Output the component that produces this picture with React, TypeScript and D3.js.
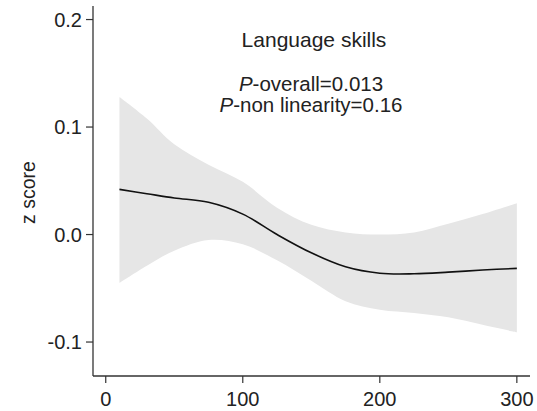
import React from "react";
import * as d3 from "d3";

// Restricted cubic spline estimate with 95% confidence band
const xValues = [10, 30, 50, 75, 100, 125, 150, 175, 200, 225, 250, 275, 300];
const fitValues = [0.042, 0.038, 0.034, 0.030, 0.019, 0.000, -0.017, -0.030, -0.036, -0.0365, -0.035, -0.033, -0.0315];
const upperValues = [0.128, 0.108, 0.084, 0.065, 0.049, 0.025, 0.009, 0.002, 0.000, 0.002, 0.010, 0.019, 0.029];
const lowerValues = [-0.045, -0.029, -0.015, -0.005, -0.009, -0.024, -0.043, -0.062, -0.070, -0.073, -0.077, -0.084, -0.091];

const xTicks = [0, 100, 200, 300];
const yTicks = [0.2, 0.1, 0.0, -0.1];

const title = "Language skills";
const pOverall = "0.013";
const pNonLinearity = "0.16";
const yLabel = "z score";

const W = 537;
const H = 411;
const FONT = "'Liberation Sans', Arial, Helvetica, sans-serif";

// Tick labels with an ASCII hyphen for negatives
const fmtTick = (v: number) => d3.format(".1f")(v).replace("\u2212", "-");

export default function App() {
  const x = d3.scaleLinear().domain([-9.3, 309.6]).range([93, 530]);
  const y = d3.scaleLinear().domain([-0.1316, 0.2126]).range([376, 6]);

  const rows = xValues.map((v, i) => ({
    x: v,
    fit: fitValues[i],
    lo: lowerValues[i],
    hi: upperValues[i],
  }));

  const curve = d3.curveCatmullRom.alpha(0.5);

  const band = d3
    .area<(typeof rows)[number]>()
    .x((d) => x(d.x))
    .y0((d) => y(d.lo))
    .y1((d) => y(d.hi))
    .curve(curve);

  const line = d3
    .line<(typeof rows)[number]>()
    .x((d) => x(d.x))
    .y((d) => y(d.fit))
    .curve(curve);

  const [x0, x1] = x.range();
  const [yb, yt] = y.range();
  const axisColor = "#333";
  const textColor = "#222";

  return (
    <svg
      width={W}
      height={H}
      style={{ position: "fixed", left: 0, top: 0, background: "#fff" }}
      fontFamily={FONT}
    >
      <path d={band(rows) ?? ""} fill="#e6e6e6" stroke="none" />
      <path d={line(rows) ?? ""} fill="none" stroke="#111" strokeWidth={1.6} />

      {/* axes */}
      <line x1={x0} x2={x0} y1={yt} y2={yb} stroke={axisColor} strokeWidth={1.3} />
      <line x1={x0} x2={x1} y1={yb} y2={yb} stroke={axisColor} strokeWidth={1.3} />

      {yTicks.map((t) => (
        <g key={`y${t}`}>
          <line x1={x0 - 7} x2={x0} y1={y(t)} y2={y(t)} stroke={axisColor} strokeWidth={1.2} />
          <text
            x={x0 - 11}
            y={y(t)}
            dy="0.35em"
            textAnchor="end"
            fontSize={20}
            fill={textColor}
          >
            {fmtTick(t)}
          </text>
        </g>
      ))}

      {xTicks.map((t) => (
        <g key={`x${t}`}>
          <line x1={x(t)} x2={x(t)} y1={yb} y2={yb + 7} stroke={axisColor} strokeWidth={1.2} />
          <text x={x(t)} y={406} textAnchor="middle" fontSize={20} fill={textColor}>
            {t}
          </text>
        </g>
      ))}

      <text
        transform={`translate(35,192.5) rotate(-90)`}
        textAnchor="middle"
        fontSize={19.5}
        fill={textColor}
      >
        {yLabel}
      </text>

      <text x={314} y={47} textAnchor="middle" fontSize={21} fill={textColor}>
        {title}
      </text>
      <text x={311} y={90.5} textAnchor="middle" fontSize={20.5} fill={textColor}>
        <tspan fontStyle="italic">P</tspan>
        {`-overall=${pOverall}`}
      </text>
      <text x={311} y={111.5} textAnchor="middle" fontSize={20.5} fill={textColor}>
        <tspan fontStyle="italic">P</tspan>
        {`-non linearity=${pNonLinearity}`}
      </text>
    </svg>
  );
}
